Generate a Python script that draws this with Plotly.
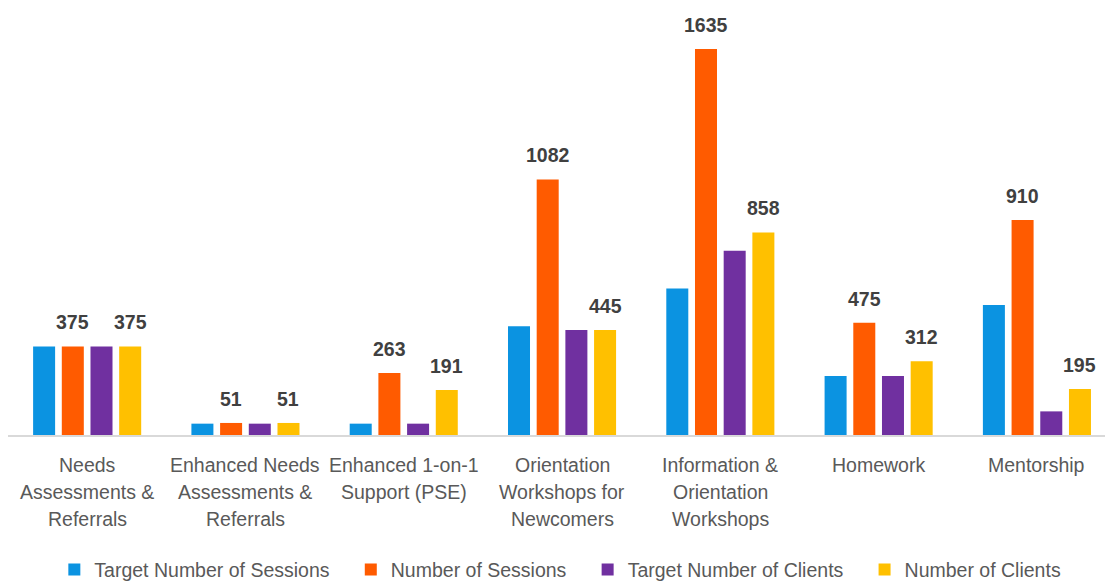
import plotly.graph_objects as go

# ---- data -------------------------------------------------------------
categories = [
    "Needs Assessments & Referrals",
    "Enhanced Needs Assessments & Referrals",
    "Enhanced 1-on-1 Support (PSE)",
    "Orientation Workshops for Newcomers",
    "Information & Orientation Workshops",
    "Homework",
    "Mentorship",
]
category_lines = [
    ["Needs", "Assessments &", "Referrals"],
    ["Enhanced Needs", "Assessments &", "Referrals"],
    ["Enhanced 1-on-1", "Support (PSE)"],
    ["Orientation", "Workshops for", "Newcomers"],
    ["Information &", "Orientation", "Workshops"],
    ["Homework"],
    ["Mentorship"],
]

target_sessions = [375, 48, 48, 460, 620, 250, 550]
sessions = [375, 51, 263, 1082, 1635, 475, 910]
target_clients = [375, 48, 48, 445, 780, 250, 100]
clients = [375, 51, 191, 445, 858, 312, 195]

series_names = ["Target Number of Sessions", "Number of Sessions",
                "Target Number of Clients", "Number of Clients"]
series_values = [target_sessions, sessions, target_clients, clients]
series_colors = ["#0B93E1", "#FF5B00", "#7030A0", "#FFC000"]
labelled = [False, True, False, True]

# ---- layout constants ---------------------------------------------------
W, H = 1105, 581
M_L, M_R, M_T, M_B = 8, 0, 0, 146
X_RANGE = [-0.5, 6.43]
Y_RANGE = [0, 1842]
BARGAP = 0.275
BARGROUPGAP = 0.233

FONT = "Liberation Sans, Arial, sans-serif"
LABEL_GREY = "#595959"
VALUE_GREY = "#404040"
LEGEND_PAD = "\u00a0" * 3  # extra breathing room between legend entries

fig = go.Figure()
n_series = len(series_names)
for k, (name, vals, col) in enumerate(zip(series_names, series_values, series_colors)):
    legend_name = name + (LEGEND_PAD if k < n_series - 1 else "")
    fig.add_trace(go.Bar(
        x=categories, y=vals, name=legend_name,
        marker=dict(color=col, line=dict(width=0)),
        hovertemplate=f"{name}<br>%{{x}}: %{{y}}<extra></extra>",
    ))

# pixel width of one bar slot inside a group
plot_w = W - M_L - M_R
cat_px = plot_w / (X_RANGE[1] - X_RANGE[0])
slot_px = cat_px * (1 - BARGAP) / n_series

annotations = []
# value labels above the actual-count bars
for k, (vals, show) in enumerate(zip(series_values, labelled)):
    if not show:
        continue
    for cat, v in zip(categories, vals):
        annotations.append(dict(
            x=cat, y=v, xref="x", yref="y",
            text=f"<b>{v}</b>", showarrow=False,
            xanchor="center", yanchor="middle",
            xshift=(k - (n_series - 1) / 2) * slot_px,
            yshift=24,
            font=dict(family=FONT, size=19.5, color=VALUE_GREY),
        ))

# category names, one line at a time
for cat, lines in zip(categories, category_lines):
    for i, line in enumerate(lines):
        annotations.append(dict(
            x=cat, y=0, xref="x", yref="paper",
            text=line, showarrow=False,
            xanchor="center", yanchor="middle",
            yshift=-30 - 27.2 * i,
            font=dict(family=FONT, size=19.5, color=LABEL_GREY),
        ))

fig.update_layout(
    width=W, height=H,
    margin=dict(l=M_L, r=M_R, t=M_T, b=M_B, pad=0, autoexpand=False),
    paper_bgcolor="white", plot_bgcolor="white",
    barmode="group", bargap=BARGAP, bargroupgap=BARGROUPGAP,
    showlegend=True,
    legend=dict(
        orientation="h", x=0.5035, xanchor="center", y=-0.31, yanchor="middle",
        font=dict(family=FONT, size=19.5, color=LABEL_GREY),
        itemwidth=30, traceorder="normal", bgcolor="rgba(0,0,0,0)",
    ),
    xaxis=dict(
        range=X_RANGE, showticklabels=False, ticks="",
        showgrid=False, zeroline=False,
        showline=True, linecolor="#D9D9D9", linewidth=2,
    ),
    yaxis=dict(range=Y_RANGE, visible=False, showgrid=False, zeroline=False),
    annotations=annotations,
)

fig.write_html("out.html")
